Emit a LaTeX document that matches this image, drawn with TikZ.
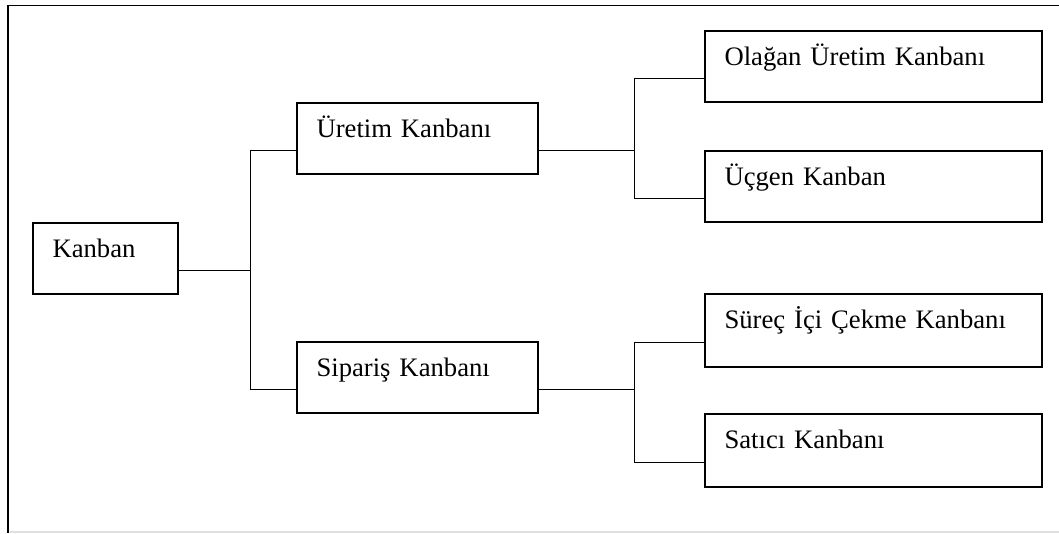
\documentclass[tikz,border=0pt]{standalone}
\usepackage{fontspec}
\setmainfont{Liberation Serif}
\begin{document}
\begin{tikzpicture}[x=0.75pt,y=-0.75pt,
  box/.style={draw, line width=1.3pt, anchor=north west, inner xsep=14.75pt, inner ysep=0pt,
    text height=26.25pt, text depth=27pt, align=left, font=\fontsize{20pt}{24pt}\selectfont},
  tallbox/.style={box, text depth=28.5pt},
  link/.style={line width=1.1pt},
  frame/.style={line width=1.4pt}]
\useasboundingbox (0,0) rectangle (1059,533);
% outer frame (open on the right)
\draw[frame] (8,533) -- (8,5.5) -- (1059,5.5);
\draw[line width=0.8pt, black!12] (10,532) -- (1059,532);
% boxes
\node[box, text width=79.25pt] (k) at (32,222) {Kanban};
\node[box, text width=151.25pt] (u) at (296,102) {Üretim Kanbanı};
\node[box, text width=151.25pt] (s) at (296,341) {Sipariş Kanbanı};
\node[box, text width=223.25pt] (o) at (704,30) {Olağan Üretim Kanbanı};
\node[box, text width=223.25pt] (g) at (704,150) {Üçgen Kanban};
\node[tallbox, text width=223.25pt] (c) at (704,293) {Süreç İçi Çekme Kanbanı};
\node[tallbox, text width=223.25pt] (t) at (704,413) {Satıcı Kanbanı};
% junctions
\coordinate (j1) at ([xshift=54pt,yshift=-9pt]k.east);
\coordinate (j2) at ([xshift=72pt,yshift=-9pt]u.east);
\coordinate (j3) at ([xshift=72pt,yshift=-9pt]s.east);
% connectors
\draw[link] ([yshift=-9pt]k.east) -- (j1);
\draw[link] ([yshift=-9pt]u.west) -| (j1);
\draw[link] ([yshift=-9pt]s.west) -| (j1);
\draw[link] ([yshift=-9pt]u.east) -- (j2);
\draw[link] ([yshift=-9pt]o.west) -| (j2);
\draw[link] ([yshift=-9pt]g.west) -| (j2);
\draw[link] ([yshift=-9pt]s.east) -- (j3);
\draw[link] ([yshift=-9pt]c.west) -| (j3);
\draw[link] ([yshift=-9pt]t.west) -| (j3);
\end{tikzpicture}
\end{document}
